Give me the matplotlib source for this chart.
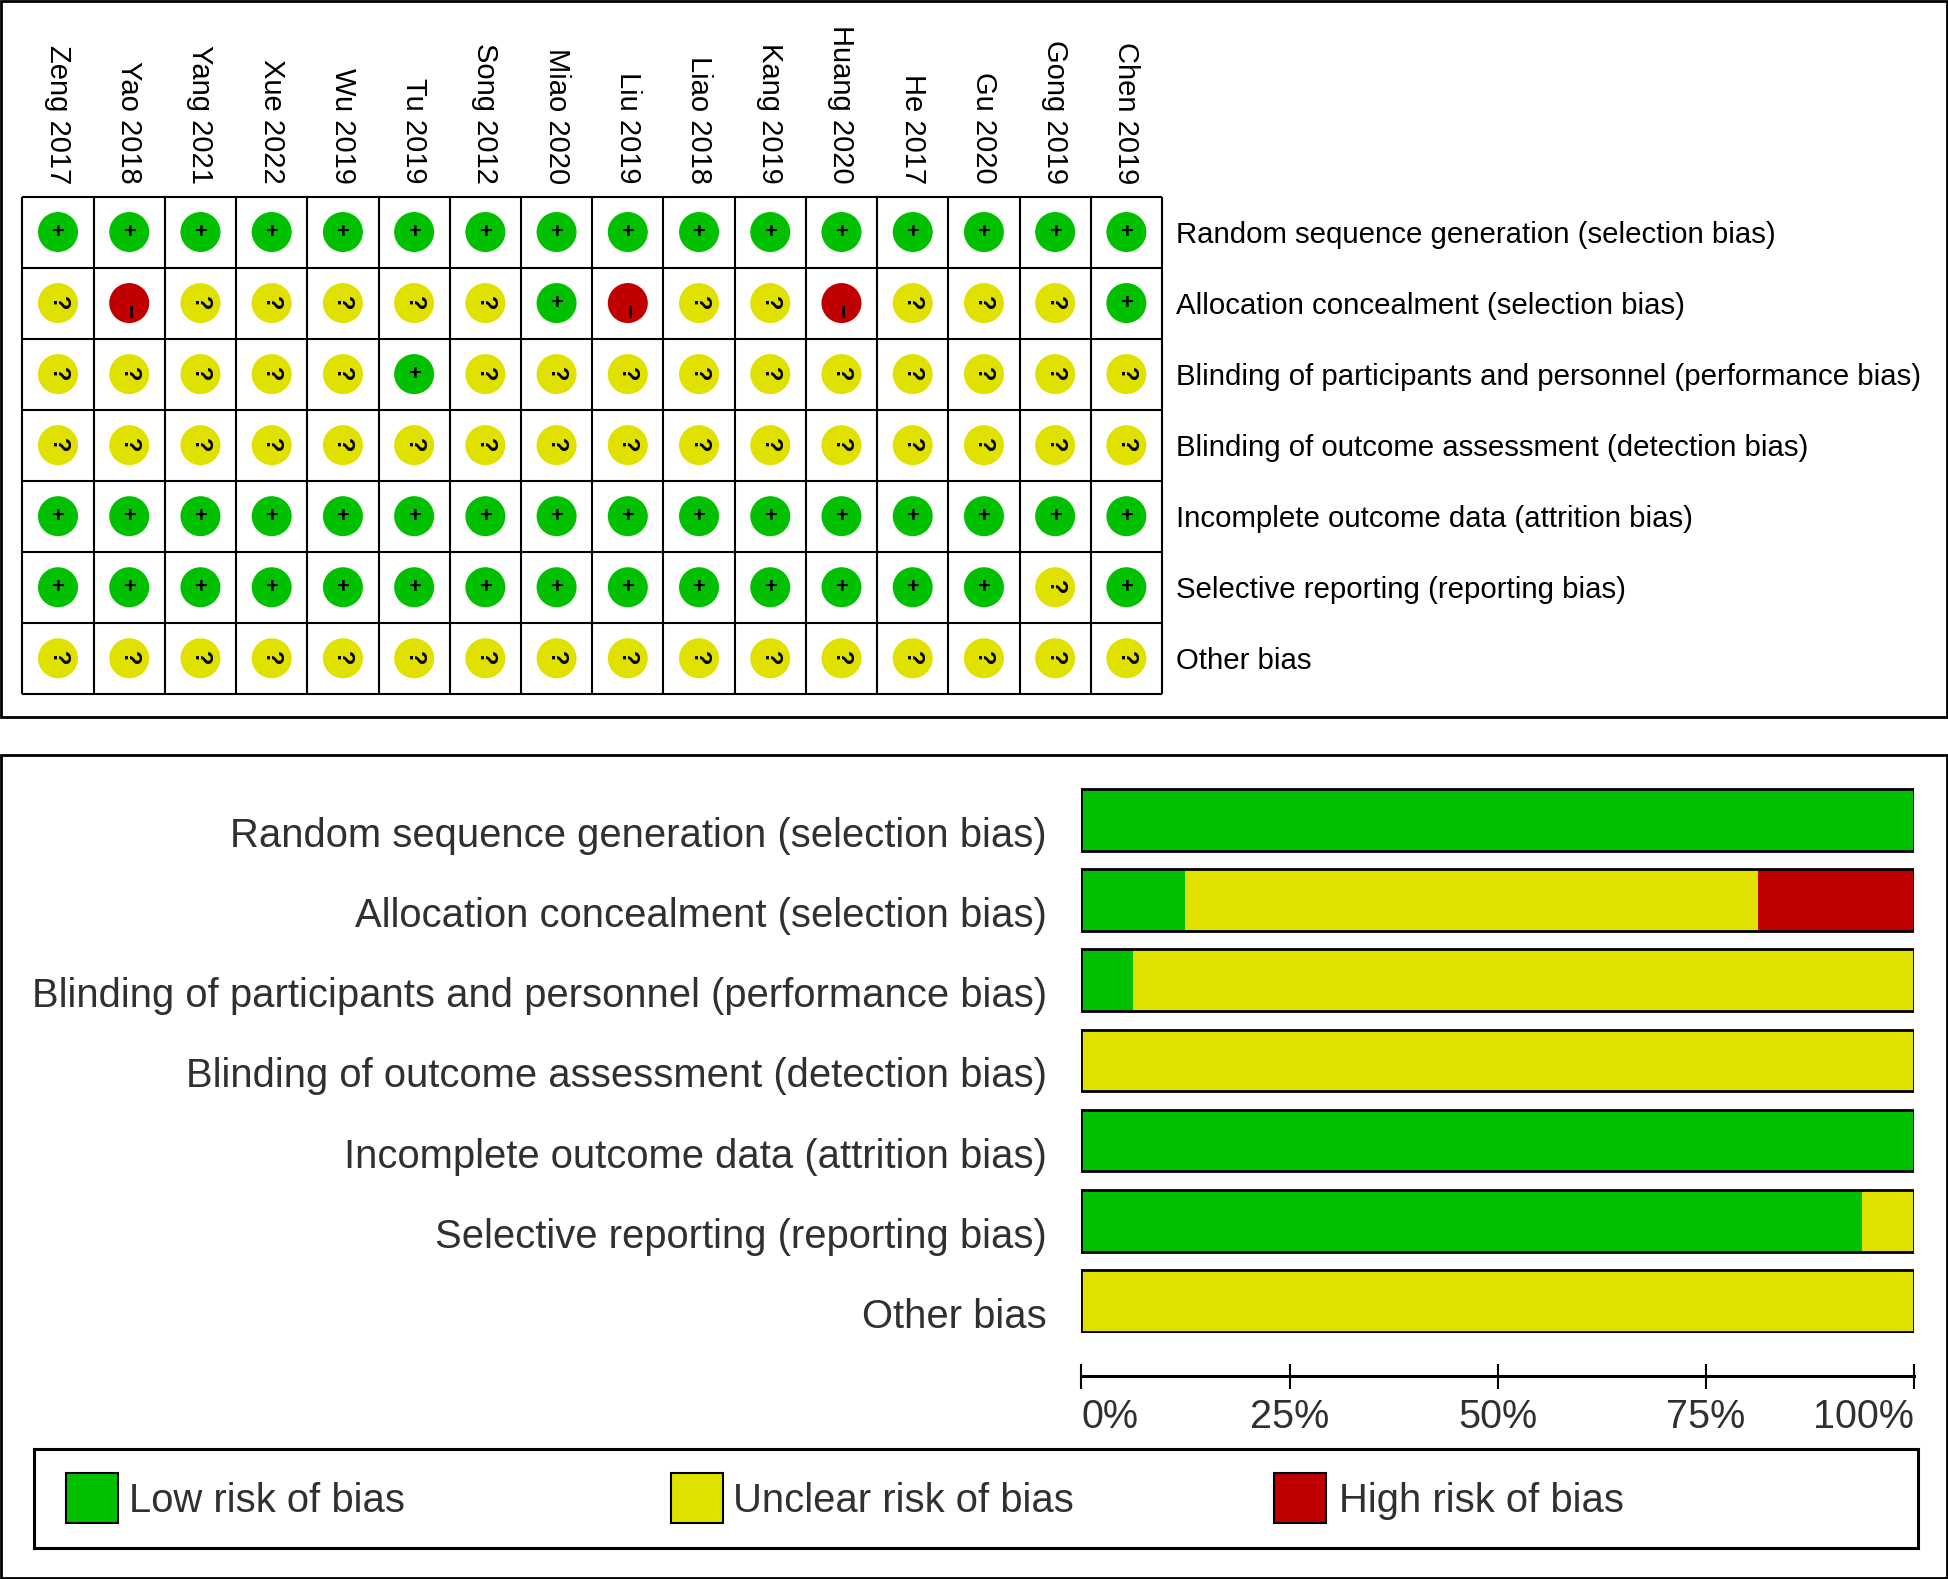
import matplotlib
matplotlib.use("Agg")
import matplotlib.pyplot as plt
import matplotlib.transforms as mtransforms
from matplotlib.patches import Rectangle
import numpy as np

plt.rcParams['font.family'] = ['Liberation Sans', 'DejaVu Sans']

# studies (left to right) and bias domains (top to bottom)
studies = ["Zeng 2017", "Yao 2018", "Yang 2021", "Xue 2022", "Wu 2019", "Tu 2019",
           "Song 2012", "Miao 2020", "Liu 2019", "Liao 2018", "Kang 2019", "Huang 2020",
           "He 2017", "Gu 2020", "Gong 2019", "Chen 2019"]
domains = ["Random sequence generation (selection bias)",
           "Allocation concealment (selection bias)",
           "Blinding of participants and personnel (performance bias)",
           "Blinding of outcome assessment (detection bias)",
           "Incomplete outcome data (attrition bias)",
           "Selective reporting (reporting bias)",
           "Other bias"]

# judgements: + low, ? unclear, - high
row_random    = list("++++++++++++++++")
row_alloc     = list("?-?????+-??-???+")
row_blind_pp  = list("?????+??????????")
row_blind_out = list("????????????????")
row_incompl   = list("++++++++++++++++")
row_selective = list("++++++++++++++?+")
row_other     = list("????????????????")
judgements = [row_random, row_alloc, row_blind_pp, row_blind_out,
              row_incompl, row_selective, row_other]

legend_labels = ["Low risk of bias", "Unclear risk of bias", "High risk of bias"]
pct_ticks = [0, 25, 50, 75, 100]
pct_labels = ["0%", "25%", "50%", "75%", "100%"]

GREEN = "#00C000"
YELLOW = "#E1E100"
RED = "#C00000"
col_of = {"+": GREEN, "?": YELLOW, "-": RED}

W, H = 1949, 1579
fig = plt.figure(figsize=(W / 100, H / 100), dpi=100)


def px_rect(x0, y0, x1, y1):
    # pixel box (top-left origin) -> figure fraction rect
    return [x0 / W, 1 - y1 / H, (x1 - x0) / W, (y1 - y0) / H]


# panel borders
for (x0, y0, x1, y1) in [(1, 1, 1947, 717), (1, 755, 1947, 1578)]:
    r = px_rect(x0, y0, x1, y1)
    fig.add_artist(Rectangle((r[0], r[1]), r[2], r[3], transform=fig.transFigure,
                             fill=False, edgecolor="black", linewidth=2))

# ---------- top: risk of bias summary ----------
ns, nd = len(studies), len(domains)
ax1 = fig.add_axes(px_rect(22.4, 196.5, 1162, 693.8))
ax1.set_xlim(0, ns)
ax1.set_ylim(nd, 0)
ax1.vlines(np.arange(ns + 1), 0, nd, color="black", linewidth=1.5, clip_on=False)
ax1.hlines(np.arange(nd + 1), 0, ns, color="black", linewidth=1.5, clip_on=False)
for s in ax1.spines.values():
    s.set_visible(False)

ax1.xaxis.tick_top()
ax1.set_xticks(np.arange(ns) + 0.5)
ax1.set_xticklabels(studies, rotation=-90, fontsize=21)
ax1.yaxis.tick_right()
ax1.set_yticks(np.arange(nd) + 0.5)
ax1.set_yticklabels(domains, fontsize=21.2)
ax1.tick_params(axis="both", length=0)
ax1.tick_params(axis="x", pad=9)
ax1.tick_params(axis="y", pad=10)

xs, ys, cs = [], [], []
for j, row in enumerate(judgements):
    for i, v in enumerate(row):
        xs.append(i + 0.5)
        ys.append(j + 0.5)
        cs.append(col_of[v])
ax1.scatter(xs, ys, s=830, c=cs, linewidths=0, zorder=3)
for j, row in enumerate(judgements):
    for i, v in enumerate(row):
        if v == "+":
            ax1.text(i + 0.5, j + 0.5, "+", ha="center", va="center", fontsize=16,
                     fontweight="bold", zorder=4)
        elif v == "?":
            ax1.text(i + 0.5, j + 0.5, "?", ha="center", va="center", fontsize=17,
                     fontweight="bold", rotation=-90, zorder=4)
        else:
            ax1.text(i + 0.5, j + 0.62, "\u2212", ha="center", va="center", fontsize=17,
                     fontweight="bold", rotation=-90, zorder=4)

# ---------- bottom: risk of bias graph ----------
low = np.array([row.count("+") for row in judgements]) / ns * 100
unclear = np.array([row.count("?") for row in judgements]) / ns * 100
high = np.array([row.count("-") for row in judgements]) / ns * 100

ax2 = fig.add_axes(px_rect(1081.4, 788.3, 1914.2, 1332.6))
yy = np.arange(nd)
bh = 0.77
ax2.barh(yy, low, height=bh, color=GREEN, linewidth=0)
ax2.barh(yy, unclear, left=low, height=bh, color=YELLOW, linewidth=0)
ax2.barh(yy, high, left=low + unclear, height=bh, color=RED, linewidth=0)
ax2.barh(yy, low + unclear + high, height=bh, fill=False, edgecolor="black", linewidth=2)
ax2.set_ylim(nd - 1 + bh / 2 + 0.01, -bh / 2 - 0.01)
ax2.set_xlim(0, 100)
ax2.set_yticks(yy)
ax2.set_yticklabels(domains, fontsize=28.8, color="#303030")
ax2.tick_params(axis="y", length=0, pad=25)
shift = mtransforms.ScaledTranslation(0, -0.12, fig.dpi_scale_trans)
for lab in ax2.get_yticklabels():
    lab.set_transform(lab.get_transform() + shift)
for side in ["left", "right", "top"]:
    ax2.spines[side].set_visible(False)
ax2.spines["bottom"].set_position(("outward", 31.3))
ax2.spines["bottom"].set_linewidth(2.2)
ax2.set_xticks(pct_ticks)
ax2.set_xticklabels(pct_labels, fontsize=28.5, color="#303030")
ax2.tick_params(axis="x", direction="inout", length=18, width=1.5, pad=6.5)
xl = ax2.get_xticklabels()
xl[0].set_ha("left")
xl[-1].set_ha("right")

# legend box
ax3 = fig.add_axes(px_rect(33.6, 1448.5, 1918, 1548))
ax3.set_xticks([])
ax3.set_yticks([])
for s in ax3.spines.values():
    s.set_linewidth(2.2)
for xp, xt, c, lab in zip([0.0172, 0.338, 0.658], [0.0506, 0.3714, 0.6926],
                          [GREEN, YELLOW, RED], legend_labels):
    ax3.add_patch(Rectangle((xp, 0.251), 0.0276, 0.503, transform=ax3.transAxes,
                            facecolor=c, edgecolor="black", linewidth=1.5))
    ax3.text(xt, 0.47, lab, transform=ax3.transAxes, ha="left", va="center",
             fontsize=28.8, color="#303030")

fig.savefig("out.png", dpi=100)
